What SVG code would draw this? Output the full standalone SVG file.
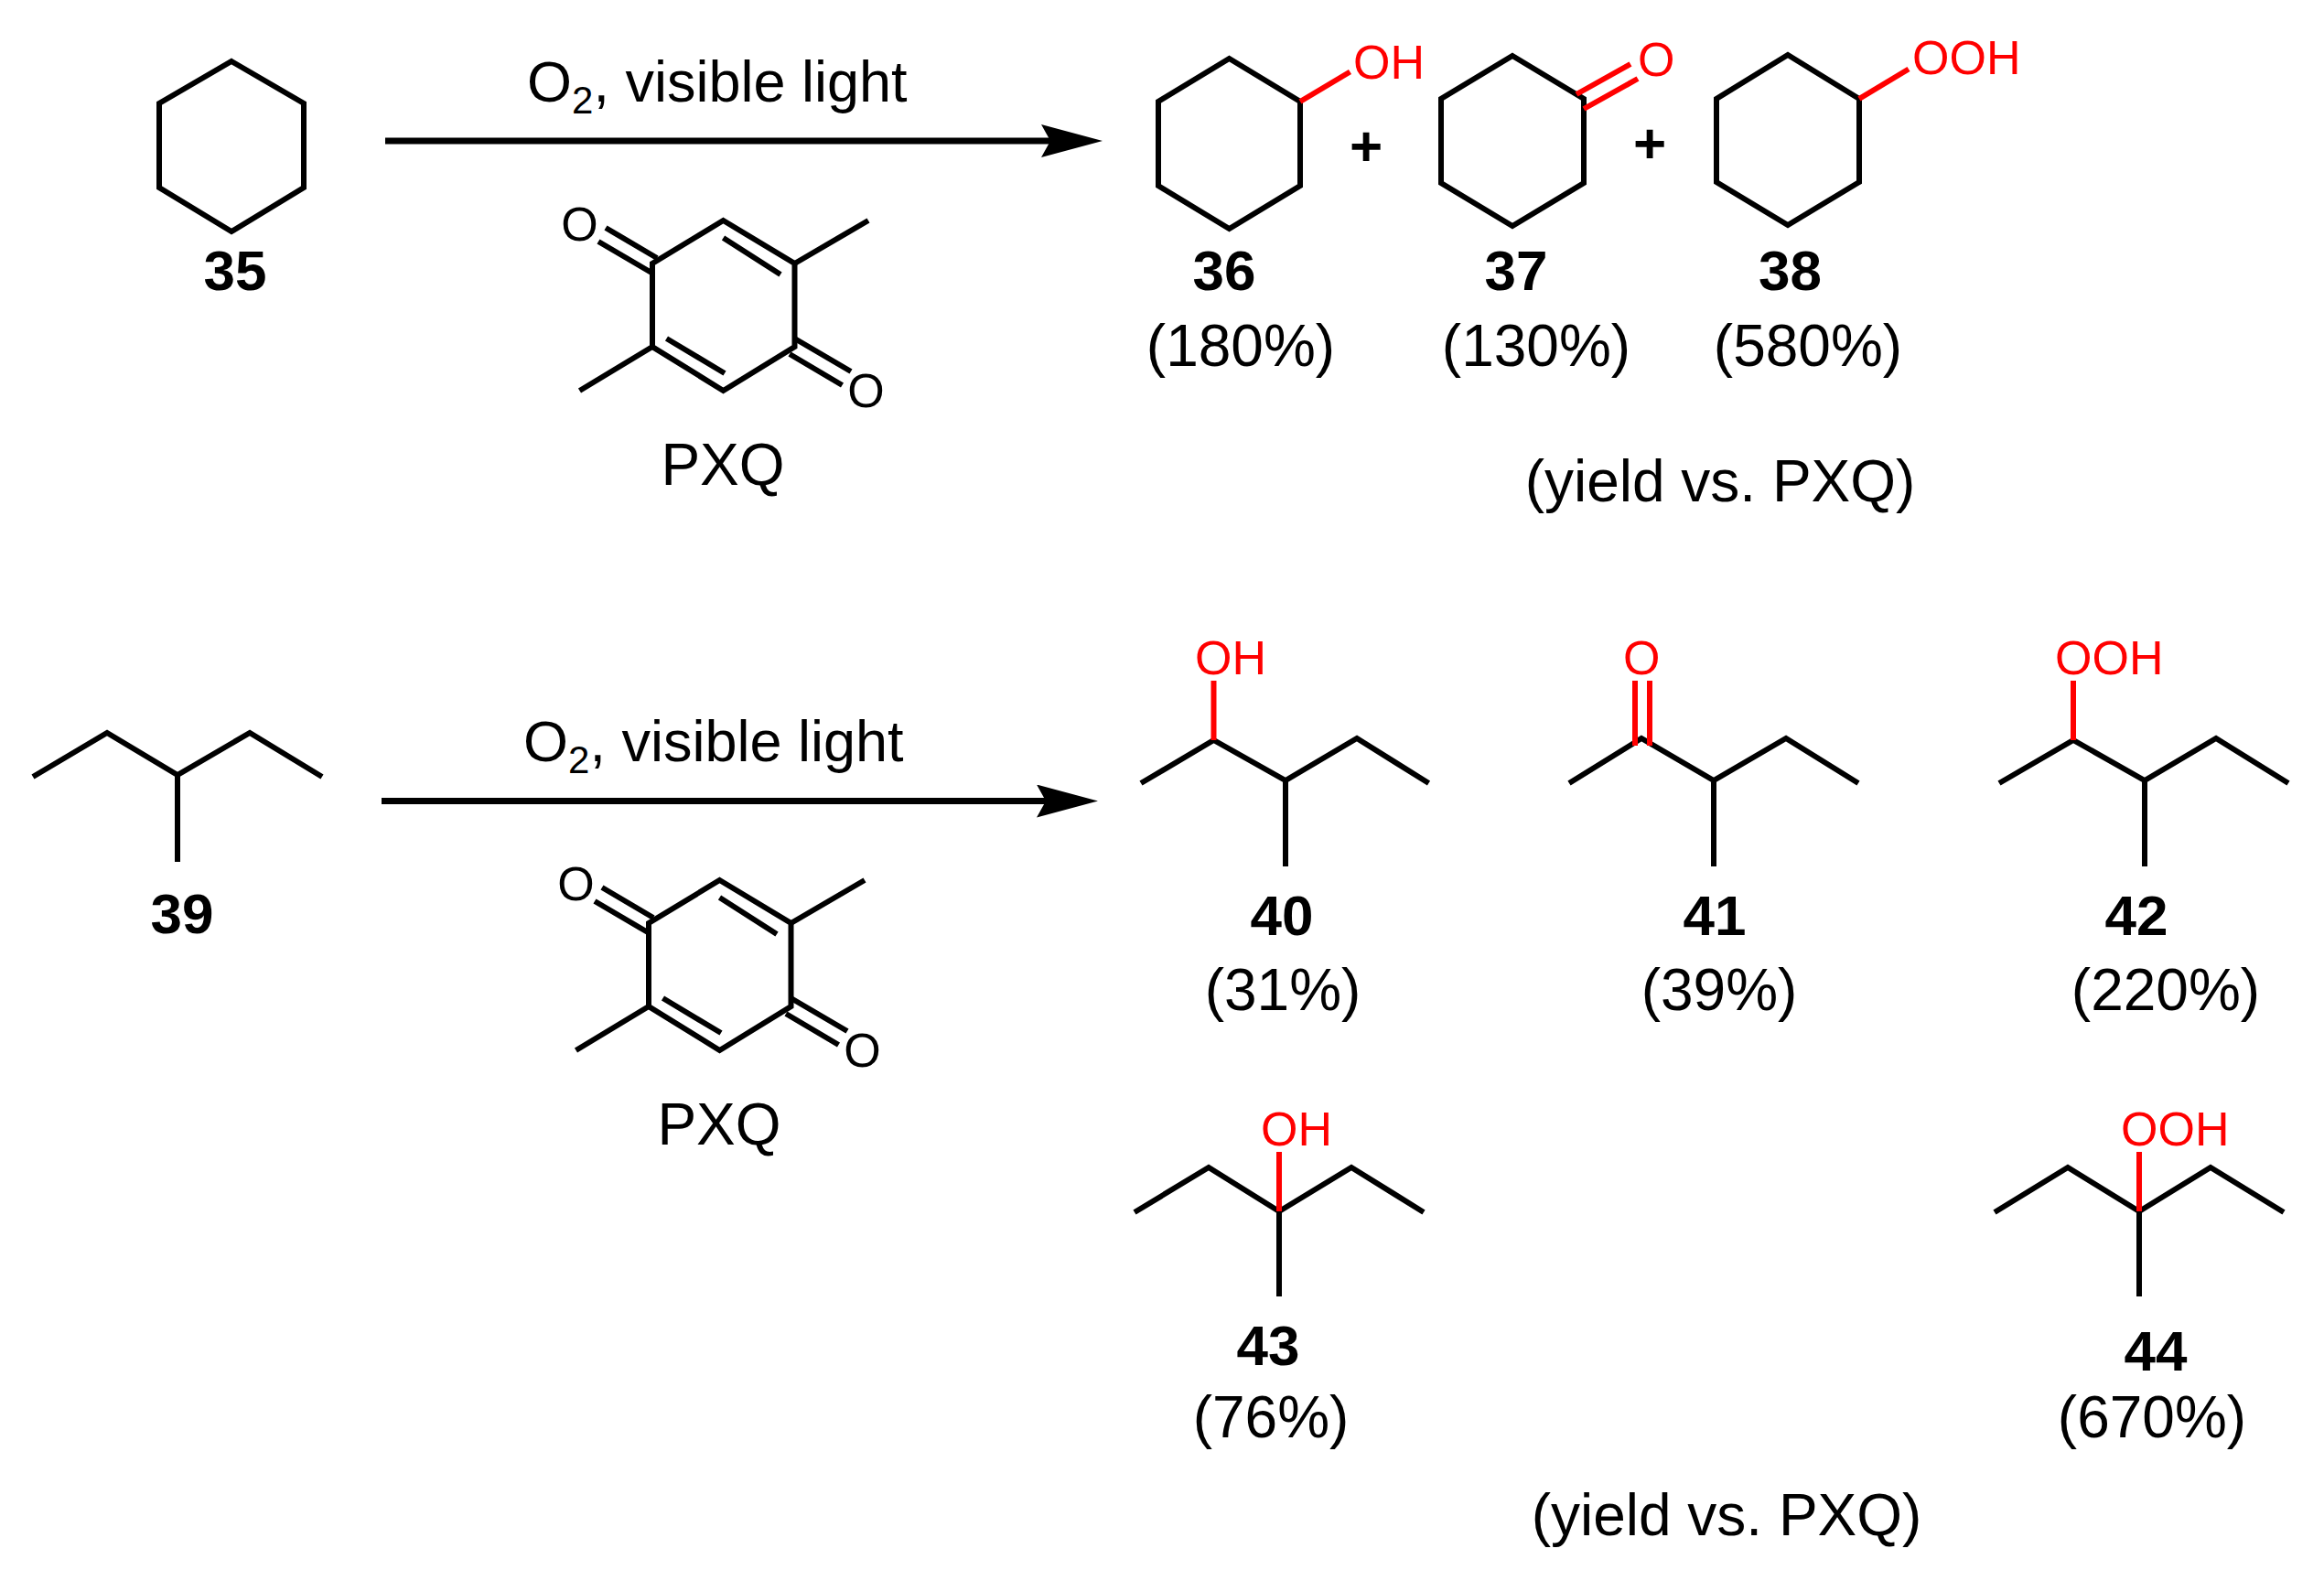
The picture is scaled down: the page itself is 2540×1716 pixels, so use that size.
<svg xmlns="http://www.w3.org/2000/svg" xmlns:xlink="http://www.w3.org/1999/xlink" width="2540" height="1716" viewBox="0 0 2540 1716">
<style>
text{font-family:"Liberation Sans",Arial,sans-serif;fill:#000}
.t{font-size:64px;text-anchor:middle}
.b{font-size:62px;font-weight:bold;text-anchor:middle}
.r{font-size:52px;fill:#f00}
.s{font-size:63px}
.o{font-size:52px;text-anchor:middle}
.p{font-size:62px;font-weight:bold;text-anchor:middle}
.k{fill:none;stroke:#000;stroke-width:6;stroke-linejoin:miter}
.d{fill:none;stroke:#f00;stroke-width:6}
</style>
<defs>
<marker id="head" markerUnits="userSpaceOnUse" markerWidth="70" markerHeight="40" refX="10" refY="18" orient="auto"><path d="M0 0L67 18L0 36L10 18Z" fill="#000"/></marker>
<g id="pxq">
<path class="k" d="M790.5 241L868.5 288V379L790.5 427L713 379V288Z"/>
<path class="k" d="M868.5 288L949 241M713 379L633.5 427M662 249L718 282M654 264L712 298M868.5 370L930 406M863 387L920.5 421M790.500 260L853 300M728.500 370L792 408"/>
<text class="o" x="633.5" y="263">O</text>
<text class="o" x="946.5" y="445">O</text>
<text class="t" x="790" y="530">PXQ</text>
</g>
<path id="chain" class="k" d="M-158 48L-77 0L0 46L79 0L158 48M0 46V141"/>
</defs>
<rect width="2540" height="1716" fill="#fff"/>
<g id="connectors">
<line class="arrow" x1="421" y1="154" x2="1148" y2="154" stroke="#000" stroke-width="7" marker-end="url(#head)"/>
<line class="arrow" x1="417" y1="875.500" x2="1143" y2="875.500" stroke="#000" stroke-width="7" marker-end="url(#head)"/>
</g>
<g id="cond1"><text class="s" x="576" y="111">O<tspan font-size="42" dy="13">2</tspan><tspan dy="-13">, visible light</tspan></text></g>
<g id="cond2"><text class="s" x="572" y="832">O<tspan font-size="42" dy="13">2</tspan><tspan dy="-13">, visible light</tspan></text></g>
<g id="pxq1"><use xlink:href="#pxq" href="#pxq"/></g>
<g id="pxq2"><use xlink:href="#pxq" href="#pxq" transform="translate(-4 721)"/></g>
<g id="n35"><path class="k" d="M253 67L332 113V205L253 253L174 205V113Z"/><text class="b" x="257" y="316.500">35</text></g>
<g id="n36"><path class="k" d="M1343.5 64L1421 111V203L1343.5 250L1266 203V111Z"/><path class="d" d="M1421 111L1475.5 78.5"/><text class="r" x="1479" y="85.500">OH</text><text class="b" x="1338" y="316.500">36</text><text class="t" x="1356" y="399.500">(180%)</text></g>
<g id="plus1"><text class="p" x="1493" y="180.500">+</text></g>
<g id="n37"><path class="k" d="M1653 61L1731 108V200L1653 247L1575 200V108Z"/><path class="d" d="M1723 103L1782 70M1731 119L1790 86"/><text class="r" x="1790" y="83">O</text><text class="b" x="1657" y="316.500">37</text><text class="t" x="1679" y="399.500">(130%)</text></g>
<g id="plus2"><text class="p" x="1803" y="177.500">+</text></g>
<g id="n38"><path class="k" d="M1954 60L2032 108V199L1954 246L1876 199V108Z"/><path class="d" d="M2032 108L2086 75.500"/><text class="r" x="2090" y="81">OOH</text><text class="b" x="1956.500" y="316.500">38</text><text class="t" x="1976" y="399.500">(580%)</text></g>
<g id="note1"><text class="t" x="1880" y="548">(yield vs. PXQ)</text></g>
<g id="n39"><use xlink:href="#chain" href="#chain" transform="translate(194 801)"/><text class="b" x="199" y="1020">39</text></g>
<g id="n40"><path class="k" d="M1247 856L1326.500 809L1405 853L1483 807L1561.500 856M1405 853V947"/><path class="d" d="M1326.500 809V744"/><text class="r" x="1306" y="736.500">OH</text><text class="b" x="1401" y="1021.500">40</text><text class="t" x="1402" y="1103.500">(31%)</text></g>
<g id="n41"><path class="k" d="M1715 856L1794 807L1873 853L1952 807L2031 856M1873 853V947"/><path class="d" d="M1787 744V815M1803 744V815"/><text class="r" x="1774" y="736.500">O</text><text class="b" x="1874" y="1021.500">41</text><text class="t" x="1879" y="1103.500">(39%)</text></g>
<g id="n42"><path class="k" d="M2185 856L2266 809L2344 853L2422 807L2501 856M2344 853V947"/><path class="d" d="M2266 809V744"/><text class="r" x="2246" y="736.500">OOH</text><text class="b" x="2335" y="1021.500">42</text><text class="t" x="2367" y="1103.500">(220%)</text></g>
<g id="n43"><path class="k" d="M1240 1325L1321 1276L1398 1324L1477 1276L1556 1325M1398 1324V1417"/><path class="d" d="M1398 1324V1259"/><text class="r" x="1378" y="1252">OH</text><text class="b" x="1386" y="1491.500">43</text><text class="t" x="1389" y="1571">(76%)</text></g>
<g id="n44"><path class="k" d="M2180 1325L2260 1276L2338 1324L2416 1276L2496 1325M2338 1324V1417"/><path class="d" d="M2338 1324V1259"/><text class="r" x="2318" y="1252">OOH</text><text class="b" x="2356" y="1497.500">44</text><text class="t" x="2352" y="1571">(670%)</text></g>
<g id="note2"><text class="t" x="1887" y="1678">(yield vs. PXQ)</text></g>
</svg>
